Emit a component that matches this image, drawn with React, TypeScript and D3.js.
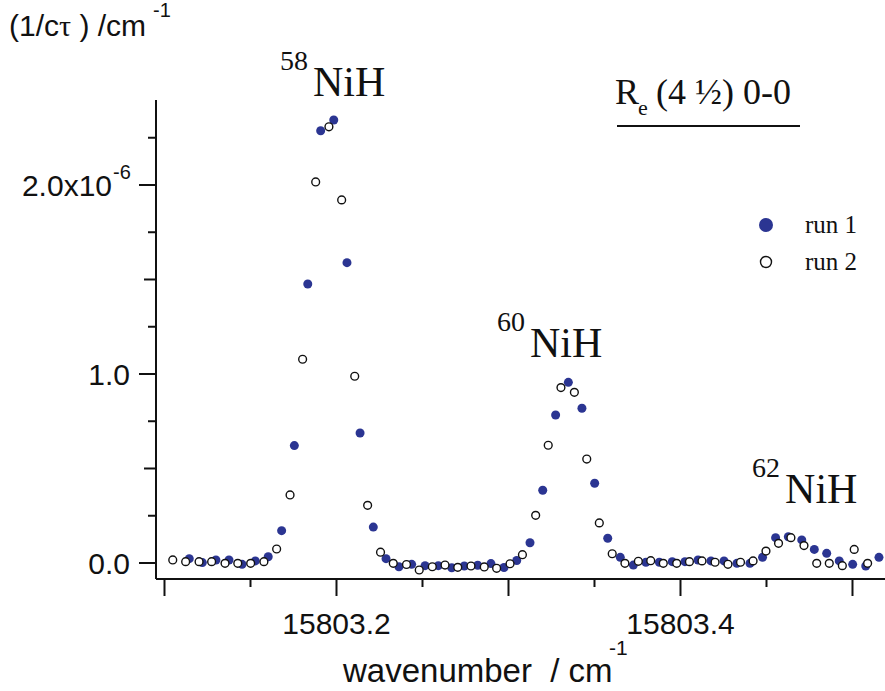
import React from "react";
import * as d3 from "d3";

// run 1 (filled markers): wavenumber / cm^-1 and 1/(c tau) in units of 1e-6 cm^-1
const run1Wavenumber = [
  15803.1144, 15803.1220, 15803.1299, 15803.1375, 15803.1451, 15803.1528, 15803.1603, 15803.1681,
  15803.1755, 15803.1833, 15803.1908, 15803.1984, 15803.2061, 15803.2137, 15803.2214, 15803.2288,
  15803.2363, 15803.2437, 15803.2515, 15803.2592, 15803.2670, 15803.2743, 15803.2821, 15803.2898,
  15803.2974, 15803.3048, 15803.3125, 15803.3199, 15803.3274, 15803.3348, 15803.3427, 15803.3501,
  15803.3577, 15803.3650, 15803.3726, 15803.3799, 15803.3877, 15803.3952, 15803.4026, 15803.4102,
  15803.4177, 15803.4253, 15803.4328, 15803.4404, 15803.4477, 15803.4553, 15803.4627, 15803.4705,
  15803.4778, 15803.4850, 15803.4923, 15803.5001, 15803.5077, 15803.5154,
];
const run1Value = [
  0.023, 0.002, 0.016, 0.016, -0.007, 0.011, 0.033, 0.171,
  0.621, 1.476, 2.287, 2.344, 1.589, 0.688, 0.190, 0.023,
  -0.020, -0.007, -0.014, -0.014, -0.025, -0.016, -0.012, -0.003,
  -0.024, 0.013, 0.107, 0.385, 0.783, 0.956, 0.819, 0.422,
  0.131, 0.030, -0.011, 0.004, 0.004, 0.007, 0.007, 0.016,
  0.011, 0.011, -0.002, -0.002, 0.030, 0.134, 0.139, 0.122,
  0.072, 0.051, 0.011, -0.007, -0.016, 0.030,
];

// run 2 (open markers)
const run2Wavenumber = [
  15803.1048, 15803.1123, 15803.1201, 15803.1274, 15803.1352, 15803.1426, 15803.1501, 15803.1578,
  15803.1652, 15803.1730, 15803.1803, 15803.1879, 15803.1956, 15803.2030, 15803.2106, 15803.2181,
  15803.2256, 15803.2330, 15803.2407, 15803.2481, 15803.2557, 15803.2631, 15803.2705, 15803.2782,
  15803.2859, 15803.2931, 15803.3009, 15803.3081, 15803.3158, 15803.3231, 15803.3305, 15803.3383,
  15803.3455, 15803.3528, 15803.3603, 15803.3677, 15803.3755, 15803.3827, 15803.3900, 15803.3978,
  15803.4052, 15803.4125, 15803.4201, 15803.4276, 15803.4349, 15803.4422, 15803.4497, 15803.4570,
  15803.4642, 15803.4718, 15803.4792, 15803.4865, 15803.4941, 15803.5010, 15803.5088,
];
const run2Value = [
  0.016, 0.007, 0.007, 0.007, -0.002, -0.002, -0.002, 0.007,
  0.074, 0.360, 1.078, 2.016, 2.308, 1.921, 0.988, 0.305,
  0.057, -0.002, -0.008, -0.037, -0.020, -0.011, -0.023, -0.016,
  -0.021, -0.028, -0.004, 0.044, 0.252, 0.623, 0.928, 0.903,
  0.550, 0.212, 0.049, -0.002, 0.009, 0.012, -0.002, -0.002,
  0.007, 0.011, 0.004, -0.007, 0.004, 0.011, 0.063, 0.104,
  0.134, 0.092, -0.002, -0.002, -0.014, 0.072, -0.002,
];

const xTicks = [15803.1, 15803.15, 15803.2, 15803.25, 15803.3, 15803.35, 15803.4, 15803.45, 15803.5];
const xTickLabels = ["15803.2", "15803.4"];
const yTicks = [0, 0.25, 0.5, 0.75, 1, 1.25, 1.5, 1.75, 2, 2.25];
const yTickLabels = ["0.0", "1.0", "2.0"];

// isotope labels anchored (start of "NiH") in data coordinates
const isotopeMass = ["58", "60", "62"];
const isotopeWn = [15803.1863, 15803.3125, 15803.4608];
const isotopeVal = [2.471, 1.09, 0.317];

const BLUE = "#2b3592";
const SANS = "'Liberation Sans', Arial, sans-serif";
const SERIF = "'Liberation Serif', 'Times New Roman', serif";

export default function App() {
  const W = 885, H = 691;
  const x = d3.scaleLinear().domain([15803.09506, 15803.5189]).range([156, 885]);
  const y = d3.scaleLinear().domain([-0.0847, 2.4497]).range([579, 100]);

  const r1 = run1Wavenumber.map((w, i) => ({ w, v: run1Value[i] }));
  const r2 = run2Wavenumber.map((w, i) => ({ w, v: run2Value[i] }));

  const near = (a: number, b: number) => Math.abs(a - b) < 1e-6;

  return (
    <svg width={W} height={H} style={{ position: "absolute", left: 0, top: 0, background: "#fff" }}>
      <rect x={0} y={0} width={W} height={H} fill="#fff" />
      {/* y axis title */}
      <text x={9} y={36} fontFamily={SANS} fontSize={30} fill="#111" xmlSpace="preserve">
        (1/c<tspan fontFamily={SERIF}>τ</tspan> ) /cm
      </text>
      <text x={153} y={17} fontFamily={SANS} fontSize={20} fill="#111">-1</text>

      {/* axes */}
      <line x1={156} y1={100} x2={156} y2={579} stroke="#111" strokeWidth={2} />
      <line x1={156} y1={579} x2={885} y2={579} stroke="#111" strokeWidth={2} />

      {yTicks.map((t) => {
        const isInt = near(t, Math.round(t));
        const isHalf = !isInt && near(t * 2, Math.round(t * 2));
        const len = isInt ? 17 : isHalf ? 12 : 8;
        return <line key={"yt" + t} x1={156 - len} x2={156} y1={y(t)} y2={y(t)} stroke="#111" strokeWidth={2} />;
      })}
      {yTickLabels.map((lab, i) => (
        <text key={"yl" + lab} x={i === 2 ? 112 : 130} y={y(i) + 11} textAnchor="end" fontFamily={SANS} fontSize={30} fill="#111">
          {i === 2 ? "2.0x10" : lab}
        </text>
      ))}
      <text x={113} y={y(2) - 6} fontFamily={SANS} fontSize={20} fill="#111">-6</text>

      {xTicks.map((t) => {
        const isMajor = near(t * 10, Math.round(t * 10));
        return <line key={"xt" + t} x1={x(t)} x2={x(t)} y1={579} y2={579 + (isMajor ? 17 : 8)} stroke="#111" strokeWidth={2} />;
      })}
      {xTickLabels.map((lab) => (
        <text key={"xl" + lab} x={x(+lab)} y={634} textAnchor="middle" fontFamily={SANS} fontSize={30} fill="#111">
          {lab}
        </text>
      ))}
      <text x={343} y={682} fontFamily={SANS} fontSize={33} fill="#111" xmlSpace="preserve">
        wavenumber  / cm
      </text>
      <text x={609} y={655} fontFamily={SANS} fontSize={21} fill="#111">-1</text>

      {/* data */}
      {r1.map((d, i) => (
        <circle key={"a" + i} cx={x(d.w)} cy={y(d.v)} r={4.5} fill={BLUE} />
      ))}
      {r2.map((d, i) => (
        <circle key={"b" + i} cx={x(d.w)} cy={y(d.v)} r={3.9} fill="#fff" stroke="#111" strokeWidth={1.4} />
      ))}

      {/* isotope labels */}
      {isotopeMass.map((m, i) => {
        const nx = x(isotopeWn[i]);
        const by = y(isotopeVal[i]);
        return (
          <g key={m}>
            <text x={nx - 33} y={by - 26} fontFamily={SERIF} fontSize={28} fill="#111">{m}</text>
            <text x={nx} y={by} fontFamily={SERIF} fontSize={42} fill="#111">NiH</text>
          </g>
        );
      })}

      {/* band label */}
      <text x={615} y={104} fontFamily={SERIF} fontSize={36} fill="#111">R</text>
      <text x={638} y={115} fontFamily={SERIF} fontSize={22} fill="#111">e</text>
      <text x={656} y={104} fontFamily={SERIF} fontSize={36} fill="#111">(4 ½) 0-0</text>
      <line x1={617} x2={800} y1={126} y2={126} stroke="#111" strokeWidth={2} />

      {/* legend */}
      <circle cx={766} cy={225} r={7} fill={BLUE} />
      <text x={805} y={233} fontFamily={SERIF} fontSize={25} fill="#111">run 1</text>
      <circle cx={766} cy={262} r={5.5} fill="#fff" stroke="#111" strokeWidth={1.4} />
      <text x={805} y={270} fontFamily={SERIF} fontSize={25} fill="#111">run 2</text>
    </svg>
  );
}
